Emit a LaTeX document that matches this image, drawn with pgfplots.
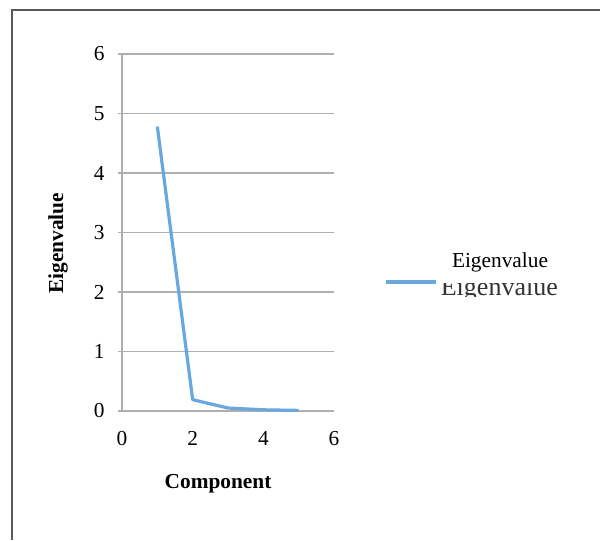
\documentclass[border=0pt]{standalone}
\usepackage{pgfplots}
\pgfplotsset{compat=1.18}
\usepackage{fontspec}
\setmainfont{Liberation Serif}
\definecolor{serblue}{RGB}{104,168,222}
\definecolor{gridgray}{RGB}{175,175,175}
\begin{document}
\begin{tikzpicture}
\useasboundingbox (0,0) rectangle (450pt,405pt);
\fill[white] (0,0) rectangle (450pt,405pt);
\draw[gray!70!black, line width=1.1pt] (9pt,0pt) -- (9pt,397.5pt) -- (450pt,397.5pt);
\begin{axis}[
  at={(91.5pt,96.75pt)}, anchor=south west,
  scale only axis, width=159pt, height=267.75pt,
  xmin=0, xmax=6, ymin=0, ymax=6,
  xtick={0,2,4,6}, ytick={0,1,2,3,4,5,6},
  axis x line*=bottom, axis y line*=left,
  axis line style={gridgray, line width=1.1pt, -},
  ymajorgrids, major grid style={gridgray, line width=1.1pt},
  tick align=outside, major tick length=3pt,
  x tick style={draw=none}, y tick style={gridgray, line width=1.1pt},
  /pgf/number format/assume math mode=true,
  tick label style={font=\fontsize{16}{19}\selectfont},
  yticklabel style={xshift=-6.5pt},
  xticklabel style={yshift=-8.5pt},
  xlabel={\textbf{Component}}, ylabel={\textbf{Eigenvalue}},
  label style={font=\fontsize{16}{19}\selectfont},
  xlabel style={at={(axis description cs:0.453,-0.204)}, anchor=center},
  ylabel style={at={(axis description cs:-0.302,0.47)}, anchor=center, rotate=0},
  clip=false,
]
\addplot[serblue, line width=2.4pt, line join=round] coordinates {
  (1,4.78) (2,0.19) (3,0.05) (4,0.02) (5,0.01)
};
\end{axis}
\draw[serblue, line width=2.4pt] (289.5pt,193.5pt) -- (327pt,193.5pt);
\node[font=\fontsize{16}{19}\selectfont, anchor=center, inner sep=0] at (375pt,208.5pt) {Eigenvalue};
\begin{scope}
\clip (320pt,182.4pt) rectangle (430pt,192.3pt);
\node[font=\fontsize{19.5}{23}\selectfont, anchor=base, inner sep=0, text=black!80] at (374.5pt,183.75pt) {Eigenvalue};
\end{scope}
\end{tikzpicture}
\end{document}
